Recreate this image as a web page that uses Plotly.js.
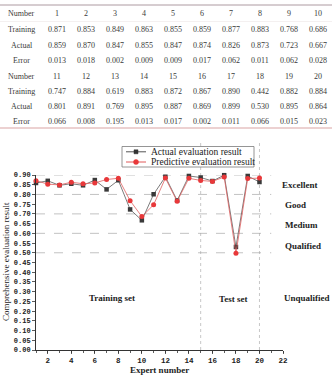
<!DOCTYPE html>
<html>
<head>
<meta charset="utf-8">
<script src="https://cdn.plot.ly/plotly-3.0.1.min.js"></script>
<style>
  html, body { margin: 0; padding: 0; background: #fff; }
  #chart { width: 332px; height: 375px; }
</style>
</head>
<body>
<div id="chart"></div>
<script>
// Table contents: two blocks of ten experts
var numbersTop = [1, 2, 3, 4, 5, 6, 7, 8, 9, 10];
var numbersBottom = [11, 12, 13, 14, 15, 16, 17, 18, 19, 20];
var trainingValues = ["0.871", "0.853", "0.849", "0.863", "0.855", "0.859", "0.877", "0.883", "0.768", "0.686",
                      "0.747", "0.884", "0.619", "0.883", "0.872", "0.867", "0.890", "0.442", "0.882", "0.884"];
var actualValues = ["0.859", "0.870", "0.847", "0.855", "0.847", "0.874", "0.826", "0.873", "0.723", "0.667",
                    "0.801", "0.891", "0.769", "0.895", "0.887", "0.869", "0.899", "0.530", "0.895", "0.864"];
var errorValues = ["0.013", "0.018", "0.002", "0.009", "0.009", "0.017", "0.062", "0.011", "0.062", "0.028",
                   "0.066", "0.008", "0.195", "0.013", "0.017", "0.002", "0.011", "0.066", "0.015", "0.023"];
var rowLabels = ["Number", "Training", "Actual", "Error"];

// Plotted series
var expertNumbers = [1, 2, 3, 4, 5, 6, 7, 8, 9, 10, 11, 12, 13, 14, 15, 16, 17, 18, 19, 20];
var actualSeries = [0.859, 0.870, 0.847, 0.855, 0.847, 0.874, 0.826, 0.873, 0.723, 0.667,
                    0.801, 0.891, 0.769, 0.895, 0.887, 0.869, 0.899, 0.530, 0.895, 0.864];
var predictedSeries = [0.871, 0.853, 0.849, 0.863, 0.855, 0.859, 0.877, 0.883, 0.768, 0.686,
                       0.747, 0.884, 0.765, 0.883, 0.872, 0.867, 0.890, 0.497, 0.882, 0.884];

// Grade bands and their labels
var gradeLines = [0.9, 0.8, 0.7, 0.6, 0.5];
var gradeLabels = ["Excellent", "Good", "Medium", "Qualified", "Unqualified"];
var setBoundaries = [15, 20];
var setLabels = ["Training set", "Test set"];

var W = 332, H = 375;
function px(x) { return x / W; }
function py(y) { return 1 - y / H; }

var serif = "Liberation Serif, Times New Roman, serif";
var annotations = [];
var shapes = [];

// ---- table ----
var rowY = [14, 29.3, 45, 60.3, 76, 91.5, 106.5, 121.5];
var blocks = [numbersTop, numbersBottom];
blocks.forEach(function (nums, b) {
  var rows = [
    nums.map(String),
    trainingValues.slice(b * 10, b * 10 + 10),
    actualValues.slice(b * 10, b * 10 + 10),
    errorValues.slice(b * 10, b * 10 + 10)
  ];
  rows.forEach(function (cells, r) {
    var y = rowY[b * 4 + r];
    annotations.push({
      xref: "paper", yref: "paper", x: px(21.5), y: py(y),
      xanchor: "center", yanchor: "middle", showarrow: false,
      text: rowLabels[r], font: { family: serif, size: 8, color: "#3a3a3a" }
    });
    cells.forEach(function (c, i) {
      annotations.push({
        xref: "paper", yref: "paper", x: px(56.8 + i * 29.03), y: py(y),
        xanchor: "center", yanchor: "middle", showarrow: false,
        text: c, font: { family: serif, size: 8, color: "#3a3a3a" }
      });
    });
  });
});
shapes.push({ type: "line", xref: "paper", yref: "paper", x0: 0, x1: 1, y0: py(5), y1: py(5),
              line: { color: "#ad9aa1", width: 1 } });
shapes.push({ type: "line", xref: "paper", yref: "paper", x0: 0, x1: 1, y0: py(21.5), y1: py(21.5),
              line: { color: "#ece6e6", width: 0.6 } });
shapes.push({ type: "line", xref: "paper", yref: "paper", x0: 0, x1: 1, y0: py(128), y1: py(128),
              line: { color: "#d9a3a3", width: 1 } });

// ---- chart guide lines ----
gradeLines.forEach(function (v) {
  shapes.push({ type: "line", xref: "x", yref: "y", x0: 1, x1: 21, y0: v, y1: v, layer: "below",
                line: { color: "#a8a8a8", width: 0.7, dash: "dash" } });
});
setBoundaries.forEach(function (v) {
  shapes.push({ type: "line", xref: "x", yref: "paper", x0: v, x1: v, y0: py(350), y1: py(143), layer: "below",
                line: { color: "#b0b0b0", width: 0.7, dash: "dot" } });
});

// grade labels to the right of the plot
var gradeLabelPos = [[280, 185], [283, 205], [283, 225], [283, 246], [282, 298]];
gradeLabels.forEach(function (t, i) {
  annotations.push({
    xref: "paper", yref: "paper", x: px(gradeLabelPos[i][0]), y: py(gradeLabelPos[i][1]),
    xanchor: "left", yanchor: "middle", showarrow: false,
    text: "<b>" + t + "</b>", font: { family: serif, size: 9, color: "#222" }
  });
});
var setLabelPos = [[112, 298], [233, 299]];
setLabels.forEach(function (t, i) {
  annotations.push({
    xref: "paper", yref: "paper", x: px(setLabelPos[i][0]), y: py(setLabelPos[i][1]),
    xanchor: "center", yanchor: "middle", showarrow: false,
    text: "<b>" + t + "</b>", font: { family: serif, size: 9, color: "#222" }
  });
});

// y title
annotations.push({
  xref: "paper", yref: "paper", x: px(6), y: py(262), textangle: -90,
  xanchor: "center", yanchor: "middle", showarrow: false,
  text: "Comprehensive evaluation result", font: { family: serif, size: 9, color: "#222" }
});

// ---- legend box ----
var legendEntries = [
  { name: "Actual evaluation result", y: 151.8, line: "#555555", fill: "#333333", symbol: "rect" },
  { name: "Predictive evaluation result", y: 162, line: "#e05a5a", fill: "#e8383a", symbol: "circle" }
];
shapes.push({ type: "rect", xref: "paper", yref: "paper", x0: px(122), x1: px(254), y0: py(167), y1: py(146.5),
              layer: "above", fillcolor: "#ffffff", line: { color: "#7a7a7a", width: 0.8 } });
legendEntries.forEach(function (e) {
  shapes.push({ type: "line", xref: "paper", yref: "paper", x0: px(126), x1: px(146), y0: py(e.y), y1: py(e.y),
                layer: "above", line: { color: e.line, width: 1 } });
  var r = e.symbol === "rect" ? 2 : 2.5;
  shapes.push({ type: e.symbol, xref: "paper", yref: "paper", x0: px(136 - r), x1: px(136 + r),
                y0: py(e.y + r), y1: py(e.y - r), layer: "above", fillcolor: e.fill, line: { color: e.fill, width: 0.5 } });
  annotations.push({
    xref: "paper", yref: "paper", x: px(148.5), y: py(e.y), xanchor: "left", yanchor: "middle",
    showarrow: false, text: e.name, font: { family: serif, size: 9.5, color: "#222" }
  });
});

var traces = [
  {
    type: "scatter", mode: "lines+markers", name: "Actual evaluation result",
    x: expertNumbers, y: actualSeries, cliponaxis: false,
    line: { color: "#5a5a5a", width: 0.8 },
    marker: { symbol: "square", size: 4.5, color: "#3a3a3a" }
  },
  {
    type: "scatter", mode: "lines+markers", name: "Predictive evaluation result",
    x: expertNumbers, y: predictedSeries, cliponaxis: false,
    line: { color: "#e06060", width: 0.8 },
    marker: { symbol: "circle", size: 5, color: "#e8383a" }
  }
];

var yTicks = [];
for (var k = 0; k <= 18; k++) yTicks.push(k * 0.05);

var layout = {
  width: W, height: H,
  margin: { l: 0, r: 0, t: 0, b: 0 },
  paper_bgcolor: "#ffffff", plot_bgcolor: "#ffffff",
  showlegend: false,
  xaxis: {
    domain: [px(36), px(283)], range: [1, 22],
    tickvals: [2, 4, 6, 8, 10, 12, 14, 16, 18, 20, 22],
    ticks: "outside", ticklen: 3, tickwidth: 0.8, tickcolor: "#333",
    minor: { dtick: 1, ticks: "outside", ticklen: 2, tickcolor: "#333" },
    showline: true, linecolor: "#333", linewidth: 1,
    showgrid: false, zeroline: false,
    tickfont: { family: "Liberation Mono, monospace", size: 7.5, color: "#222", weight: "bold" },
    title: { text: "<b>Expert number</b>", font: { family: serif, size: 9, color: "#222" }, standoff: 4 }
  },
  yaxis: {
    domain: [py(350), py(175)], range: [0, 0.9],
    tickvals: yTicks, tickformat: ".2f",
    ticks: "outside", ticklen: 3, tickwidth: 0.8, tickcolor: "#333",
    showline: true, linecolor: "#333", linewidth: 1,
    showgrid: false, zeroline: false,
    tickfont: { family: "Liberation Mono, monospace", size: 7, color: "#222", weight: "bold" }
  },
  shapes: shapes,
  annotations: annotations
};

Plotly.newPlot("chart", traces, layout, { staticPlot: true, displayModeBar: false });
</script>
</body>
</html>
